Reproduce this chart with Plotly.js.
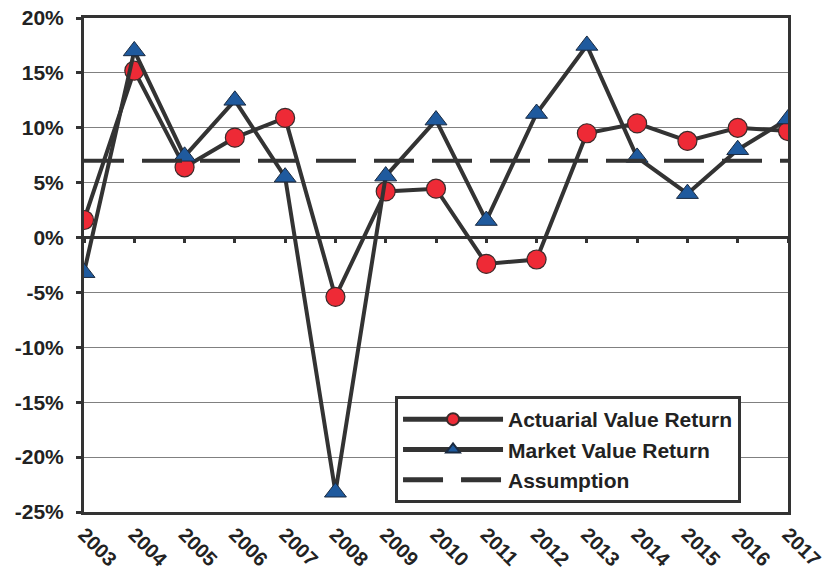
<!DOCTYPE html>
<html><head><meta charset="utf-8">
<script src="https://cdn.plot.ly/plotly-3.0.1.min.js"></script>
<style>html,body{margin:0;padding:0;background:#fff}#chart{width:835px;height:574px}</style>
</head><body><div id="chart"></div>
<script>
const years = [2003,2004,2005,2006,2007,2008,2009,2010,2011,2012,2013,2014,2015,2016,2017];
const actuarial = [1.6,15.2,6.4,9.1,10.9,-5.4,4.2,4.45,-2.4,-2.0,9.5,10.4,8.8,10.0,9.7];
const market = [-3.2,17.0,7.4,12.5,5.5,-23.2,5.6,10.7,1.55,11.3,17.5,7.3,4.0,8.0,10.8];
const assumption = [7,7,7,7,7,7,7,7,7,7,7,7,7,7,7];
const yTicks = [-25,-20,-15,-10,-5,0,5,10,15,20];
const yTickLabels = yTicks.map(v => v + '%');

const lineCol = '#333333';
const traces = [
  {x: years, y: assumption, name: 'Assumption', mode: 'lines', legendgroup: 'c', legendrank: 3, xaxis: 'x2',
   line: {color: lineCol, width: 4, dash: '40px,18px'}},
  {x: years, y: actuarial, name: 'Actuarial Value Return', mode: 'lines+markers', legendgroup: 'a', legendrank: 1,
   line: {color: lineCol, width: 4},
   marker: {symbol: 'circle', size: 19, color: '#ee2a36', line: {color: '#3a2a2a', width: 1.2}}},
  {x: years, y: market, name: 'Market Value Return', mode: 'lines+markers', legendgroup: 'b', legendrank: 2,
   line: {color: lineCol, width: 4},
   marker: {symbol: 'triangle-up', size: 19, color: '#1f5a9e', line: {color: '#1a2a40', width: 1}}}
];

const layout = {
  width: 835, height: 574,
  margin: {l: 84, r: 47, t: 18, b: 62},
  paper_bgcolor: '#fff', plot_bgcolor: '#fff',
  font: {family: 'Liberation Sans, Arial, sans-serif', color: '#222', size: 20},
  showlegend: true,
  legend: {x: 0.4418, y: 0.2348, xanchor: 'left', yanchor: 'top', bgcolor: '#fff',
    bordercolor: lineCol, borderwidth: 3, font: {size: 21, family: 'Liberation Sans, Arial, sans-serif', weight: 'bold', color: '#222'},
    itemwidth: 100, itemsizing: 'constant', tracegroupgap: 9, traceorder: 'normal'},
  xaxis: {range: [2003, 2017], tickmode: 'array', tickvals: years, ticktext: years.map(String),
    tickangle: 45, showgrid: false, zeroline: false, showline: true, mirror: true,
    linecolor: lineCol, linewidth: 3, ticks: '', ticklen: 0,
    tickfont: {size: 20, weight: 'bold'}},
  xaxis2: {range: [2003, 2017], overlaying: 'x', anchor: 'free', position: 25/45, side: 'bottom',
    tickmode: 'array', tickvals: years, showticklabels: false, showgrid: false, zeroline: false,
    showline: false, ticks: 'outside', ticklen: 4, tickwidth: 3, tickcolor: lineCol},
  yaxis: {range: [-25, 20], tickmode: 'array', tickvals: yTicks, ticktext: yTickLabels,
    showgrid: true, gridcolor: '#808080', gridwidth: 1,
    zeroline: true, zerolinecolor: lineCol, zerolinewidth: 3,
    showline: true, mirror: true, linecolor: lineCol, linewidth: 3,
    ticks: 'outside', ticklen: 5, tickwidth: 3, tickcolor: lineCol, ticklabelstandoff: 8,
    tickfont: {size: 21, weight: 'bold'}}
};
Plotly.newPlot('chart', traces, layout, {displayModeBar: false, staticPlot: true});
</script></body></html>
